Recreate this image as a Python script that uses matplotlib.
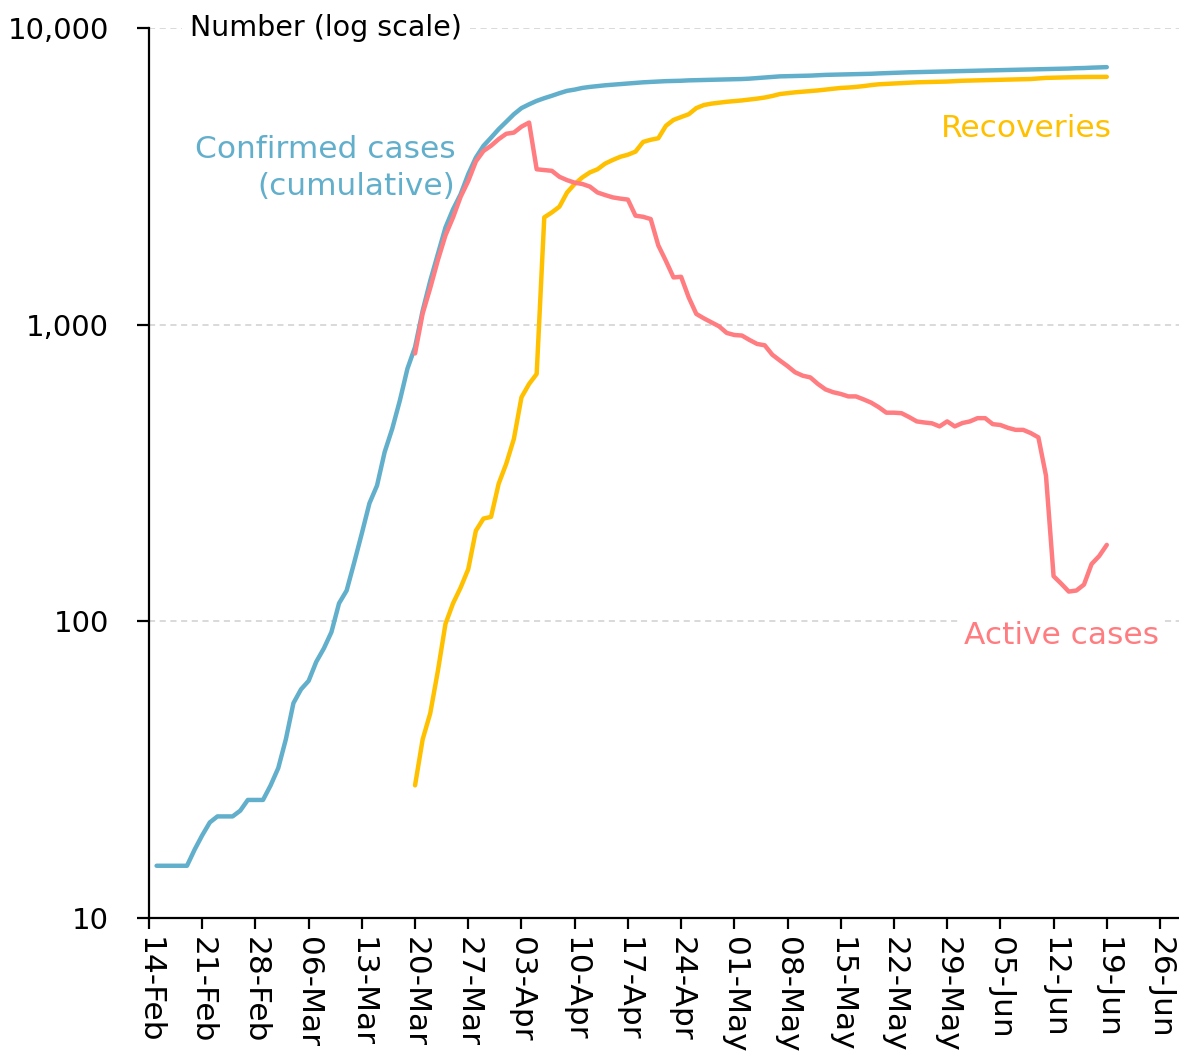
import numpy as np
import pandas as pd
import matplotlib
matplotlib.use('Agg')
import matplotlib.pyplot as plt
import matplotlib.dates as mdates
from matplotlib.ticker import FixedLocator, FixedFormatter, NullLocator

plt.rcParams['font.family'] = ['DejaVu Sans']

# daily counts
confirmed_start = '2020-02-15'
confirmed = [15, 15, 15, 15, 15, 17, 19, 21, 22, 22, 22, 23, 25, 25, 25, 28, 32, 40, 53, 59,
             63, 73, 81, 92, 115, 127, 158, 198, 250, 287, 372, 446, 555, 711, 840,
             1114, 1406, 1729, 2126, 2449, 2754, 3217, 3657, 4006, 4270, 4560, 4830, 5120, 5370, 5530,
             5680, 5800, 5910, 6030, 6140, 6200, 6280, 6330, 6370, 6410, 6440, 6470, 6500, 6530, 6560,
             6580, 6600, 6620, 6630, 6640, 6660, 6670, 6680, 6690, 6700, 6710, 6720, 6730, 6750, 6780,
             6810, 6840, 6870, 6880, 6890, 6900, 6910, 6930, 6950, 6960, 6970, 6980, 6990, 7000, 7010,
             7030, 7045, 7060, 7075, 7090, 7100, 7110, 7120, 7130, 7140, 7150, 7160, 7170, 7180, 7190,
             7200, 7210, 7220, 7230, 7240, 7250, 7260, 7270, 7280, 7290, 7300, 7320, 7330, 7350, 7365, 7380]

recovered_start = '2020-03-20'
recovered = [28, 40, 49, 68, 98, 115, 130, 150, 202, 222, 225, 291, 340, 412, 569, 631, 682,
             2300, 2390, 2500, 2790, 2980, 3135, 3260, 3340, 3490, 3590, 3680, 3740, 3830, 4130,
             4200, 4250, 4680, 4900, 5010, 5120, 5370, 5500, 5560, 5600, 5640, 5670, 5700, 5740,
             5780, 5830, 5900, 5990, 6030, 6070, 6100, 6130, 6160, 6200, 6240, 6280, 6300, 6330,
             6370, 6420, 6460, 6480, 6500, 6520, 6540, 6560, 6570, 6580, 6590, 6600, 6620, 6640,
             6650, 6660, 6670, 6680, 6690, 6700, 6710, 6720, 6730, 6760, 6790, 6800, 6810, 6820,
             6830, 6835, 6840, 6840, 6845]

active_start = '2020-03-20'
active = [800, 1090, 1330, 1650, 2000, 2300, 2700, 3050, 3550, 3850, 4010, 4220, 4400, 4440,
          4650, 4800, 3340, 3320, 3300, 3150, 3070, 3010, 2980, 2920, 2790, 2735, 2686, 2660,
          2640, 2330, 2310, 2270, 1850, 1640, 1443, 1450, 1236, 1087, 1050, 1018, 987, 938, 923,
          919, 888, 861, 852, 792, 757, 725, 691, 673, 664, 631, 605, 592, 584, 573, 573, 560,
          546, 527, 505, 505, 503, 488, 472, 468, 465, 454, 472, 454, 466, 472, 484, 484, 462,
          459, 449, 442, 442, 431, 417, 310, 142, 134, 126, 127, 133, 156, 166, 181]

series = [
    ('Confirmed cases\n(cumulative)', confirmed_start, confirmed, '#62AFCC'),
    ('Recoveries', recovered_start, recovered, '#FFC000'),
    ('Active cases', active_start, active, '#FF7C80'),
]

y_ticks = [10, 100, 1000, 10000]
y_labels = ['10', '100', '1,000', '10,000']

fig = plt.figure(figsize=(11.79, 10.55), dpi=100)
ax = fig.add_axes([149 / 1179, 137 / 1055, 1030 / 1179, 890 / 1055])

for name, start, vals, col in series:
    dates = pd.date_range(start, periods=len(vals), freq='D')
    ax.plot(dates, vals, color=col, lw=3.2, solid_capstyle='round', zorder=3)

ax.set_yscale('log')
ax.set_ylim(10, 10000)
ax.yaxis.set_major_locator(FixedLocator(y_ticks))
ax.yaxis.set_major_formatter(FixedFormatter(y_labels))
ax.yaxis.set_minor_locator(NullLocator())

x0 = pd.Timestamp('2020-02-14')
ax.set_xlim(x0, x0 + pd.Timedelta(days=135.5))
ax.xaxis.set_major_locator(FixedLocator(mdates.date2num(pd.date_range(x0, '2020-06-26', freq='7D'))))
ax.xaxis.set_major_formatter(mdates.DateFormatter('%d-%b'))

ax.grid(axis='y', color='#D0D0D0', linestyle=(0, (4, 3)), lw=1.1, zorder=0)
for s in ['top', 'right']:
    ax.spines[s].set_visible(False)
for s in ['left', 'bottom']:
    ax.spines[s].set_linewidth(1.6)
    ax.spines[s].set_color('black')

ax.tick_params(axis='y', length=9, width=1.6, labelsize=21, pad=20)
ax.tick_params(axis='x', length=8, width=1.6, labelsize=22.5, pad=6, labelrotation=-90)

bg = dict(facecolor='white', edgecolor='none', pad=2)
ax.text(0.04, 10000, 'Number (log scale)', transform=ax.get_yaxis_transform(),
        fontsize=20.5, va='center', ha='left', bbox=dict(facecolor='white', edgecolor='none', pad=6))
ax.text(x0 + pd.Timedelta(days=40.3), 3380, 'Confirmed cases\n(cumulative)', color='#62AFCC',
        fontsize=22.5, ha='right', va='center', linespacing=1.35, multialignment='right')
ax.text(x0 + pd.Timedelta(days=126.7), 4600, 'Recoveries', color='#FFC000',
        fontsize=22.5, ha='right', va='center')
ax.text(x0 + pd.Timedelta(days=132.9), 89.8, 'Active cases', color='#FF7C80',
        fontsize=22.5, ha='right', va='center', bbox=bg)

fig.savefig('out.png', dpi=100)
